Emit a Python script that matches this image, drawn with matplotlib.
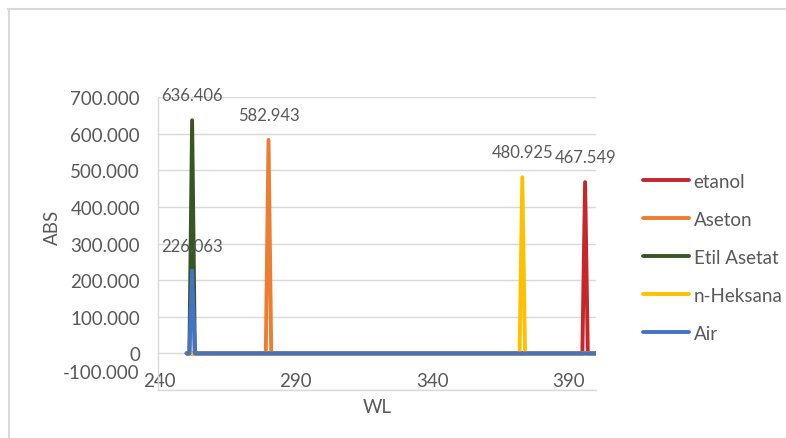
import matplotlib.pyplot as plt
from matplotlib.lines import Line2D
from matplotlib.transforms import offset_copy

# absorbance spectra (WL vs ABS), zero everywhere except at the peak
etanol_wl = [250, 395, 396, 397, 400]
etanol_abs = [0, 0, 467.549, 0, 0]
aseton_wl = [250, 279, 280, 281, 400]
aseton_abs = [0, 0, 582.943, 0, 0]
etil_wl = [250, 251, 252, 253, 400]
etil_abs = [0, 0, 636.406, 0, 0]
heksana_wl = [250, 372, 373, 374, 400]
heksana_abs = [0, 0, 480.925, 0, 0]
air_wl = [250, 251, 252, 253, 400]
air_abs = [0, 0, 226.063, 0, 0]

series = [
    ("etanol", etanol_wl, etanol_abs, "#C8262B"),
    ("Aseton", aseton_wl, aseton_abs, "#ED7D31"),
    ("Etil Asetat", etil_wl, etil_abs, "#375623"),
    ("n-Heksana", heksana_wl, heksana_abs, "#FFC000"),
    ("Air", air_wl, air_abs, "#4472C4"),
]

x_ticks = [240, 290, 340, 390]
y_ticks = [-100, 0, 100, 200, 300, 400, 500, 600, 700]

grey = "#595959"
grid_col = "#D9D9D9"
plt.rcParams['font.family'] = ['Lato', 'DejaVu Sans']

fig = plt.figure(figsize=(7.86, 4.39), dpi=100)
ax = fig.add_axes([158/786, 1-391/439, (596-158)/786, (391-98)/439])

handles = []
for name, wl, ab, col in series:
    ax.plot(wl, ab, color=col, lw=2.8, solid_capstyle='round',
            solid_joinstyle='round', zorder=3)
    handles.append(Line2D([], [], color=col, lw=2.8, solid_capstyle='round'))
    # value label above the peak
    i = ab.index(max(ab))
    ax.annotate(f"{ab[i]:.3f}", (wl[i], ab[i]), xytext=(0, 18),
                textcoords='offset points', ha='center', va='center',
                fontsize=12, color=grey, zorder=4)

ax.set_xlim(239.5, 400)
ax.set_ylim(-100, 700)
ax.set_xticks(x_ticks)
ax.set_xticklabels([str(t) for t in x_ticks])
ax.set_yticks(y_ticks)
ax.set_yticklabels(["0" if t == 0 else f"{t:.3f}" for t in y_ticks])
ax.grid(axis='y', color=grid_col, lw=1.0, zorder=0)
ax.set_axisbelow(True)

for s in ['top', 'right']:
    ax.spines[s].set_visible(False)
ax.spines['left'].set_color(grid_col)
ax.spines['bottom'].set_color(grid_col)
ax.spines['left'].set_linewidth(1.0)
ax.spines['bottom'].set_linewidth(1.0)

ax.tick_params(axis='y', length=0, pad=13, labelsize=13.5, labelcolor=grey)
ax.tick_params(axis='x', length=0, pad=-13, labelsize=13.5, labelcolor=grey)

# lowest y label sits higher than its gridline
lab = ax.get_yticklabels()[0]
lab.set_transform(offset_copy(lab.get_transform(), fig=fig, y=19, units='dots'))

fig.text(52/786, 1-227/439, "ABS", rotation=90, ha='center', va='center',
         fontsize=13.5, color=grey)
fig.text(377/786, 1-408/439, "WL", ha='center', va='center',
         fontsize=13.5, color=grey)

fig.legend(handles, [s[0] for s in series], loc='upper left',
           bbox_to_anchor=(643/786, 1-174/439), frameon=False,
           borderpad=0, borderaxespad=0, handlelength=2.45,
           handletextpad=0.25, labelspacing=1.12, fontsize=13.5,
           labelcolor=grey)

# chart area border
fig.add_artist(Line2D([8/786, 1.0], [1-9.5/439, 1-9.5/439],
                      color=grid_col, lw=1.5, transform=fig.transFigure))
fig.add_artist(Line2D([8.5/786, 8.5/786], [0.0, 1-9.5/439],
                      color=grid_col, lw=1.5, transform=fig.transFigure))

plt.savefig('out.png', dpi=100)
plt.close()
